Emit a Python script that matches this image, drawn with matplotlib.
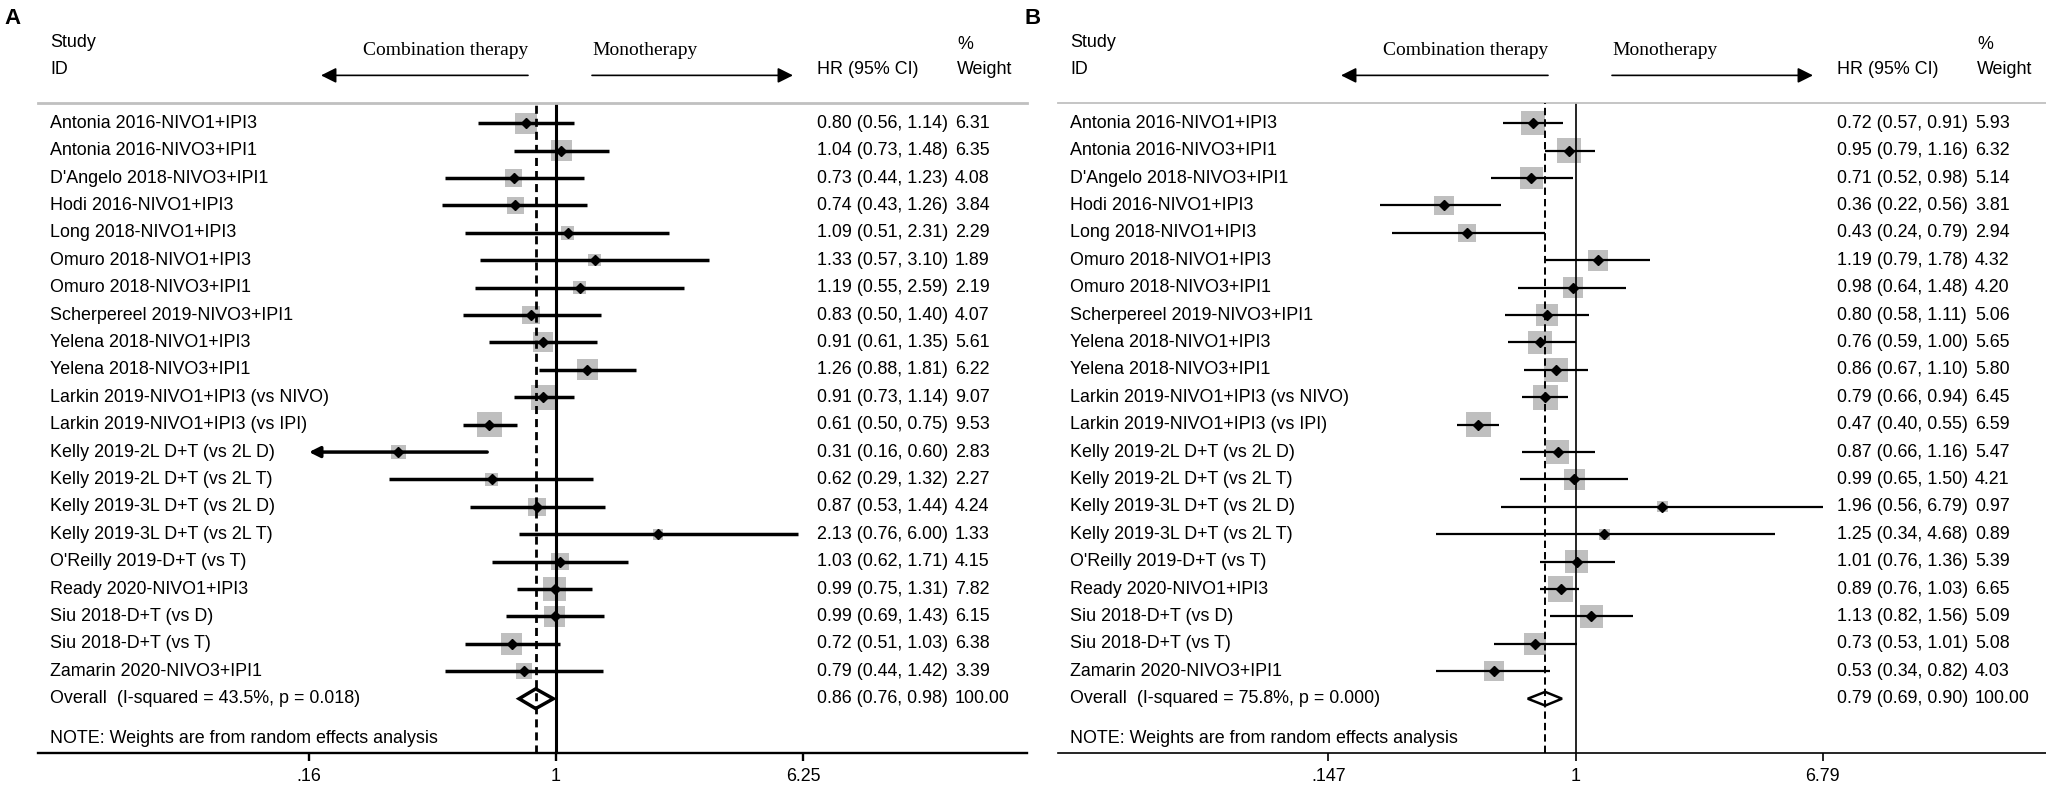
import numpy as np
import matplotlib
matplotlib.use("Agg")
import matplotlib.pyplot as plt
import matplotlib.transforms as mtransforms

plt.rcParams['lines.scale_dashes'] = False

studies = [
    "Antonia 2016-NIVO1+IPI3", "Antonia 2016-NIVO3+IPI1", "D'Angelo 2018-NIVO3+IPI1",
    "Hodi 2016-NIVO1+IPI3", "Long 2018-NIVO1+IPI3", "Omuro 2018-NIVO1+IPI3",
    "Omuro 2018-NIVO3+IPI1", "Scherpereel 2019-NIVO3+IPI1", "Yelena 2018-NIVO1+IPI3",
    "Yelena 2018-NIVO3+IPI1", "Larkin 2019-NIVO1+IPI3 (vs NIVO)", "Larkin 2019-NIVO1+IPI3 (vs IPI)",
    "Kelly 2019-2L D+T (vs 2L D)", "Kelly 2019-2L D+T (vs 2L T)", "Kelly 2019-3L D+T (vs 2L D)",
    "Kelly 2019-3L D+T (vs 2L T)", "O'Reilly 2019-D+T (vs T)", "Ready 2020-NIVO1+IPI3",
    "Siu 2018-D+T (vs D)", "Siu 2018-D+T (vs T)", "Zamarin 2020-NIVO3+IPI1",
]

# panel A
hr_a = [0.80, 1.04, 0.73, 0.74, 1.09, 1.33, 1.19, 0.83, 0.91, 1.26, 0.91, 0.61,
        0.31, 0.62, 0.87, 2.13, 1.03, 0.99, 0.99, 0.72, 0.79]
lo_a = [0.56, 0.73, 0.44, 0.43, 0.51, 0.57, 0.55, 0.50, 0.61, 0.88, 0.73, 0.50,
        0.16, 0.29, 0.53, 0.76, 0.62, 0.75, 0.69, 0.51, 0.44]
hi_a = [1.14, 1.48, 1.23, 1.26, 2.31, 3.10, 2.59, 1.40, 1.35, 1.81, 1.14, 0.75,
        0.60, 1.32, 1.44, 6.00, 1.71, 1.31, 1.43, 1.03, 1.42]
wt_a = [6.31, 6.35, 4.08, 3.84, 2.29, 1.89, 2.19, 4.07, 5.61, 6.22, 9.07, 9.53,
        2.83, 2.27, 4.24, 1.33, 4.15, 7.82, 6.15, 6.38, 3.39]
overall_a = [0.86, 0.76, 0.98]
het_a = "Overall  (I-squared = 43.5%, p = 0.018)"
ticks_a = [0.16, 1, 6.25]
ticklabels_a = [".16", "1", "6.25"]

# panel B
hr_b = [0.72, 0.95, 0.71, 0.36, 0.43, 1.19, 0.98, 0.80, 0.76, 0.86, 0.79, 0.47,
        0.87, 0.99, 1.96, 1.25, 1.01, 0.89, 1.13, 0.73, 0.53]
lo_b = [0.57, 0.79, 0.52, 0.22, 0.24, 0.79, 0.64, 0.58, 0.59, 0.67, 0.66, 0.40,
        0.66, 0.65, 0.56, 0.34, 0.76, 0.76, 0.82, 0.53, 0.34]
hi_b = [0.91, 1.16, 0.98, 0.56, 0.79, 1.78, 1.48, 1.11, 1.00, 1.10, 0.94, 0.55,
        1.16, 1.50, 6.79, 4.68, 1.36, 1.03, 1.56, 1.01, 0.82]
wt_b = [5.93, 6.32, 5.14, 3.81, 2.94, 4.32, 4.20, 5.06, 5.65, 5.80, 6.45, 6.59,
        5.47, 4.21, 0.97, 0.89, 5.39, 6.65, 5.09, 5.08, 4.03]
overall_b = [0.79, 0.69, 0.90]
het_b = "Overall  (I-squared = 75.8%, p = 0.000)"
ticks_b = [0.147, 1, 6.79]
ticklabels_b = [".147", "1", "6.79"]

W, H = 2046, 785
SANS = "Liberation Sans"
SERIF = "Liberation Serif"
FS = 12.9

fig = plt.figure(figsize=(W / 100, H / 100), dpi=100)
px_x = mtransforms.Affine2D().scale(1.0 / W, 1.0) + fig.transFigure


def panel(off, xlim, ticks, ticklabels, hr, lo, hi, wt, overall, het, letter, thick):
    ax = fig.add_axes([(38 + off) / W, 1 - 752.7 / H, 989 / W, (752.7 - 103) / H])
    ax.set_xscale('log')
    ax.set_xlim(*xlim)
    ax.set_ylim(22.97, -0.737)
    ax.set_facecolor('none')
    for s in ('left', 'right'):
        ax.spines[s].set_visible(False)
    ax.spines['top'].set_color('#c0c0c0')
    ax.spines['top'].set_linewidth(2.0 if thick else 1.3)
    lw_ax = 1.7 if thick else 1.2
    ax.spines['bottom'].set_linewidth(lw_ax)
    ax.set_yticks([])
    ax.set_xticks(ticks)
    ax.set_xticklabels(ticklabels, fontfamily=SANS, fontsize=FS)
    ax.xaxis.set_minor_locator(matplotlib.ticker.NullLocator())
    ax.tick_params(axis='x', direction='out', length=5.8, width=lw_ax, pad=5)

    tr = mtransforms.blended_transform_factory(px_x, ax.transData)
    y = np.arange(len(hr))
    wmax = max(wt)
    sides = [(2 + 23.5 * np.sqrt(w / wmax)) * 0.72 for w in wt]
    ax.scatter(hr, y, s=np.square(sides), marker='s', color='#bfbfbf',
               linewidths=0, zorder=2)

    xmin, xmax = ticks[0], ticks[-1]
    ci_lw = 2.5 if thick else 1.6
    for i in range(len(hr)):
        a, b = max(lo[i], xmin), min(hi[i], xmax)
        if lo[i] <= xmin:
            ax.annotate('', xy=(xmin, i), xytext=(b, i),
                        arrowprops=dict(arrowstyle='-|>', lw=ci_lw, color='black',
                                        mutation_scale=16, shrinkA=0, shrinkB=0),
                        zorder=3)
        else:
            ax.hlines(i, a, b, color='black', lw=ci_lw, zorder=3)
    ax.plot(hr, y, linestyle='none', marker='D', markersize=5.6,
            color='black', zorder=4)

    ax.axvline(1, color='black', lw=2.2 if thick else 1.2, zorder=2.5)
    ov, ol, oh = overall
    n = len(hr)
    hh = 0.36 if thick else 0.25
    ax.fill([ol, ov, oh, ov, ol], [n, n - hh, n, n + hh, n], facecolor='white',
            edgecolor='black', lw=2.5 if thick else 1.8, zorder=4, joinstyle='miter')
    if thick:
        ax.axvline(ov, color='black', lw=2.0, linestyle=(0, (5.8, 3.6)), zorder=5)
    else:
        ax.axvline(ov, color='black', lw=1.4, linestyle=(0, (5.3, 2.9)), zorder=5)

    # text columns
    for i in range(n):
        ax.text(50 + off, i, studies[i], transform=tr, fontfamily=SANS, fontsize=FS,
                va='center', ha='left')
        ax.text(817 + off, i, f"{hr[i]:.2f} ({lo[i]:.2f}, {hi[i]:.2f})", transform=tr,
                fontfamily=SANS, fontsize=FS, va='center', ha='left')
        ax.text(955 + off, i, f"{wt[i]:.2f}", transform=tr, fontfamily=SANS,
                fontsize=FS, va='center', ha='left')
    ax.text(50 + off, n, het, transform=tr, fontfamily=SANS, fontsize=FS, va='center')
    ax.text(817 + off, n, f"{ov:.2f} ({ol:.2f}, {oh:.2f})", transform=tr,
            fontfamily=SANS, fontsize=FS, va='center')
    ax.text(955 + off, n, "100.00", transform=tr, fontfamily=SANS, fontsize=FS, va='center')
    ax.text(50 + off, 22.47, "NOTE: Weights are from random effects analysis", transform=tr,
            fontfamily=SANS, fontsize=FS, va='center')

    # header
    ax.text(50 + off, -2.93, "Study", transform=tr, fontfamily=SANS, fontsize=FS, va='center')
    ax.text(50 + off, -1.945, "ID", transform=tr, fontfamily=SANS, fontsize=FS, va='center')
    ax.text(817 + off, -1.945, "HR (95% CI)", transform=tr, fontfamily=SANS, fontsize=FS,
            va='center')
    ax.text(957 + off, -2.86, "%", transform=tr, fontfamily=SANS, fontsize=FS, va='center')
    ax.text(957 + off, -1.945, "Weight", transform=tr, fontfamily=SANS, fontsize=FS,
            va='center')
    ax.text(528 + off, -2.67, "Combination therapy", transform=tr, fontfamily=SERIF,
            fontsize=14, va='center', ha='right')
    ax.text(592 + off, -2.67, "Monotherapy", transform=tr, fontfamily=SERIF,
            fontsize=14, va='center', ha='left')
    arr = dict(arrowstyle='-|>', lw=1.2, color='black', mutation_scale=23,
               shrinkA=0, shrinkB=0)
    ax.annotate('', xy=(321 + off, -1.745), xytext=(528 + off, -1.745), xycoords=tr,
                textcoords=tr, arrowprops=arr, annotation_clip=False)
    ax.annotate('', xy=(793 + off, -1.745), xytext=(592 + off, -1.745), xycoords=tr,
                textcoords=tr, arrowprops=arr, annotation_clip=False)

    fig.text((4 + off) / W, 1 - 18 / H, letter, fontfamily=SANS, fontsize=16,
             fontweight='bold', va='center', ha='left')
    return ax


panel(0, (0.02143, 32.9), ticks_a, ticklabels_a, hr_a, lo_a, hi_a, wt_a,
      overall_a, het_a, "A", True)
panel(1020, (0.01806, 38.7), ticks_b, ticklabels_b, hr_b, lo_b, hi_b, wt_b,
      overall_b, het_b, "B", False)

fig.savefig("out.png", dpi=100)
